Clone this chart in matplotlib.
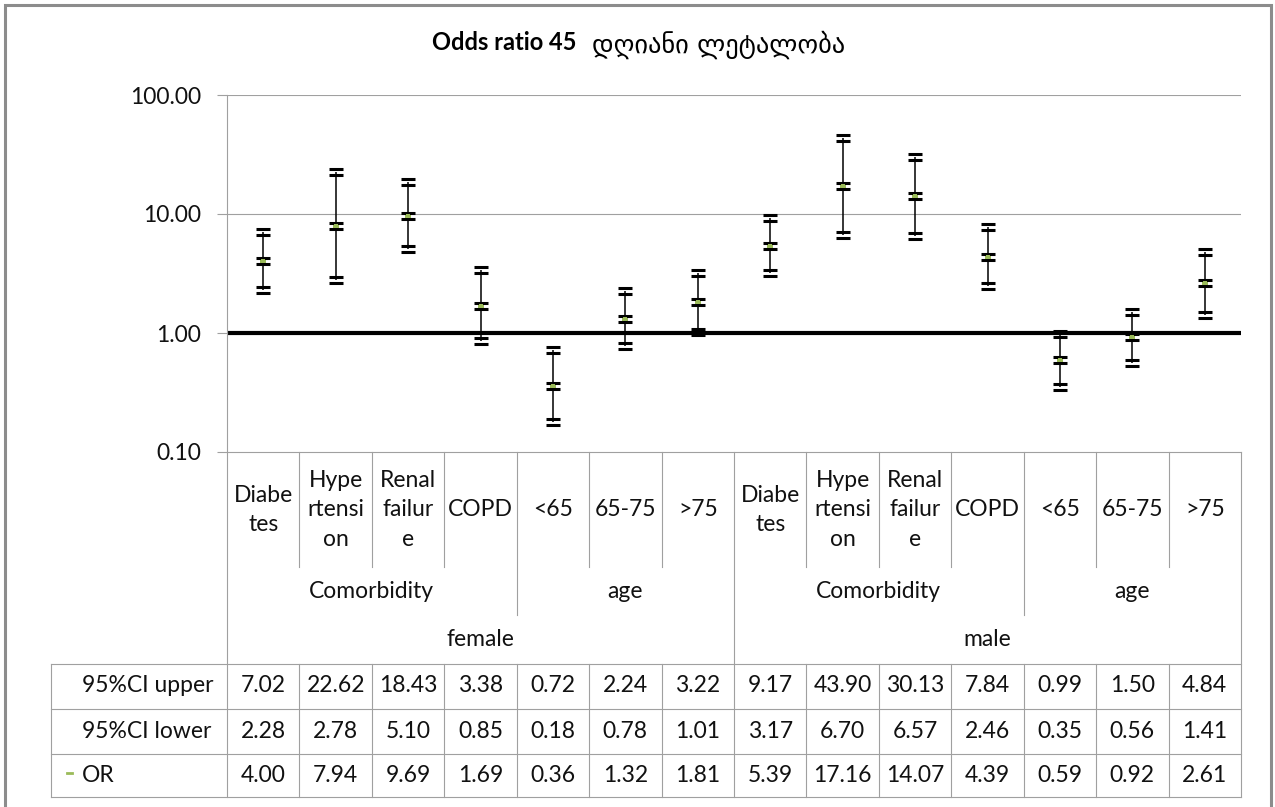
import matplotlib
matplotlib.use("Agg")
import matplotlib.pyplot as plt
import numpy as np
from matplotlib.lines import Line2D
from matplotlib.path import Path
from matplotlib.transforms import blended_transform_factory

# data (female block then male block)
categories = ["Diabe\ntes", "Hype\nrtensi\non", "Renal\nfailur\ne", "COPD", "<65", "65-75", ">75"] * 2
groups = [("Comorbidity", 0, 3), ("age", 4, 6), ("Comorbidity", 7, 10), ("age", 11, 13)]
sexes = [("female", 0, 6), ("male", 7, 13)]
ci_upper = [7.02, 22.62, 18.43, 3.38, 0.72, 2.24, 3.22, 9.17, 43.90, 30.13, 7.84, 0.99, 1.50, 4.84]
ci_lower = [2.28, 2.78, 5.10, 0.85, 0.18, 0.78, 1.01, 3.17, 6.70, 6.57, 2.46, 0.35, 0.56, 1.41]
odds = [4.00, 7.94, 9.69, 1.69, 0.36, 1.32, 1.81, 5.39, 17.16, 14.07, 4.39, 0.59, 0.92, 2.61]
row_labels = ["95%CI upper", "95%CI lower", "OR"]
yticks = [0.1, 1, 10, 100]

W, H = 1275, 807
GRID, TXT, GREEN = "#A0A0A0", "#111111", "#9BBB59"
FS = 16.5
plt.rcParams["font.family"] = ["Lato", "DejaVu Sans"]


def fx(px):
    return px / W


def fy(py):
    return 1 - py / H


fig = plt.figure(figsize=(W / 100, H / 100), dpi=100)
ax = fig.add_axes([fx(227), fy(452), fx(1241) - fx(227), fy(95) - fy(452)])
ax.set_yscale("log")
ax.set_ylim(0.1, 100)
ax.set_xlim(-0.5, 13.5)
ax.set_yticks(yticks)
ax.set_yticklabels([f"{v:.2f}" for v in yticks])
ax.yaxis.set_minor_locator(matplotlib.ticker.NullLocator())
ax.set_xticks([])
ax.tick_params(axis="y", length=7.2, width=0.8, color=GRID, pad=11.5, labelsize=FS, labelcolor=TXT)
for s in ["top", "right"]:
    ax.spines[s].set_visible(False)
for s in ["left", "bottom"]:
    ax.spines[s].set_color(GRID)
    ax.spines[s].set_linewidth(0.8)
for v in [10, 100]:
    ax.axhline(v, color=GRID, lw=0.8, zorder=1)
ax.axhline(1, color="black", lw=3, zorder=2)

x = np.arange(len(odds))
ax.vlines(x, ci_lower, ci_upper, color="black", lw=1.1, zorder=3)
dbar = Path([(-1, 0.38), (1, 0.38), (-1, -0.38), (1, -0.38)],
            [Path.MOVETO, Path.LINETO, Path.MOVETO, Path.LINETO])
ax.plot(x, odds, "s", color=GREEN, ms=4.5, mew=0, zorder=4)
for vals in (ci_upper, ci_lower, odds):
    ax.plot(x, vals, ls="none", marker=dbar, ms=10, mec="black", mew=2.2, zorder=5)
ax.plot(x, odds, "s", color=GREEN, ms=3, mew=0, zorder=6)

# category axis (multi-level labels) below the plot
tr = blended_transform_factory(ax.transData, fig.transFigure)


def vline(xd, y0, y1):
    fig.add_artist(Line2D([xd, xd], [fy(y0), fy(y1)], transform=tr, color=GRID, lw=0.8))


for b in np.arange(-0.5, 14, 1.0):
    if b in (-0.5, 13.5):
        vline(b, 452, 797)
    elif b == 6.5:
        vline(b, 452, 664)
    elif b in (3.5, 10.5):
        vline(b, 452, 615)
    else:
        vline(b, 452, 567)
    if -0.5 < b < 13.5:
        vline(b, 664, 797)

for i, lab in enumerate(categories):
    fig.text(i, fy(510), lab, transform=tr, ha="center", va="center", fontsize=FS,
             color=TXT, linespacing=1.5)
for lab, a, b in groups:
    fig.text((a + b) / 2, fy(591), lab, transform=tr, ha="center", va="center", fontsize=FS, color=TXT)
for lab, a, b in sexes:
    fig.text((a + b) / 2, fy(640), lab, transform=tr, ha="center", va="center", fontsize=FS, color=TXT)

# data table
for py in [664, 709, 754, 797]:
    fig.add_artist(Line2D([fx(51), fx(1241)], [fy(py), fy(py)], transform=fig.transFigure,
                          color=GRID, lw=0.8))
fig.add_artist(Line2D([fx(51), fx(51)], [fy(664), fy(797)], transform=fig.transFigure,
                      color=GRID, lw=0.8))
for r, (lab, vals, py) in enumerate(zip(row_labels, [ci_upper, ci_lower, odds], [686, 731, 775])):
    fig.text(fx(82), fy(py), lab, ha="left", va="center", fontsize=FS, color=TXT)
    for i, v in enumerate(vals):
        fig.text(i, fy(py), f"{v:.2f}", transform=tr, ha="center", va="center", fontsize=FS, color=TXT)
fig.add_artist(Line2D([fx(67), fx(72)], [fy(773), fy(773)], transform=fig.transFigure,
                      color=GREEN, lw=2))

# title
fig.text(fx(577), fy(43), "Odds ratio 45", ha="right", va="center", fontsize=17,
         fontweight="bold", color="black")
fig.text(fx(592), fy(45), "დღიანი ლეტალობა", ha="left", va="center", fontsize=19,
         family=["DejaVu Sans"], color="black")

# chart border
fig.add_artist(plt.Rectangle((fx(5), fy(812)), fx(1266), fy(5) - fy(812), transform=fig.transFigure,
                             fill=False, ec="#8C8C8C", lw=2.2))

fig.savefig("out.png", dpi=100)
